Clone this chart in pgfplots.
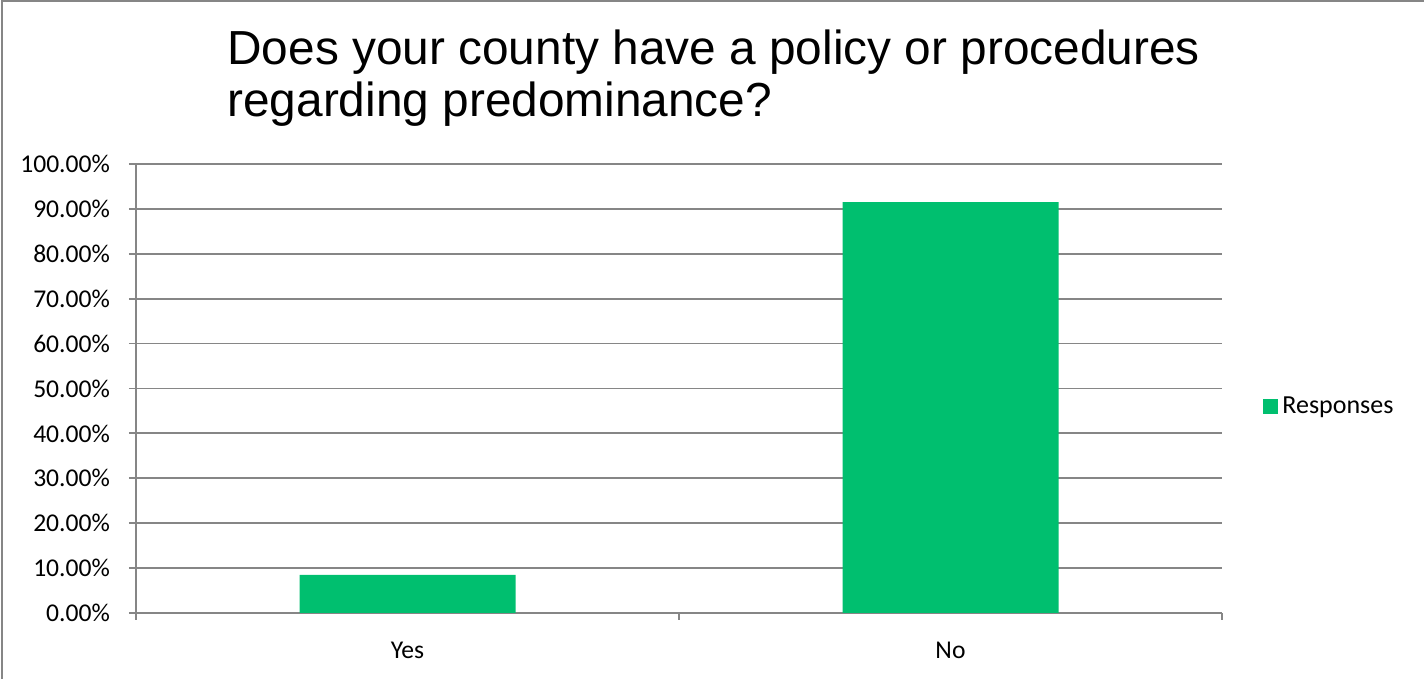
\documentclass[border=0pt]{standalone}
\usepackage{fontspec}
\setmainfont{Carlito}
\newfontfamily\titlefont{Liberation Sans}
\usepackage{pgfplots}
\pgfplotsset{compat=1.18}
\definecolor{smgreen}{HTML}{00BF6F}
\definecolor{gridgray}{HTML}{868686}
\begin{document}
\begin{tikzpicture}
\useasboundingbox (0,0) rectangle (712pt,339.5pt);
\draw[gridgray,line width=0.9pt] (1pt,0) -- (1pt,339pt) -- (712pt,339pt);
\node[anchor=base west,inner sep=0pt,font=\titlefont\fontsize{23.9pt}{26pt}\selectfont] at (113.5pt,307pt) {Does your county have a policy or procedures};
\node[anchor=base west,inner sep=0pt,font=\titlefont\fontsize{23.9pt}{26pt}\selectfont] at (113.5pt,281pt) {regarding predominance?};
\begin{axis}[
  at={(68pt,33pt)}, anchor=south west,
  scale only axis, width=543pt, height=224.5pt,
  xmin=-0.5, xmax=1.5, ymin=0, ymax=100,
  axis x line*=bottom, axis y line*=left,
  axis line style={gridgray,line width=0.9pt,-},
  xtick={0,1}, xticklabels={Yes,No},
  minor xtick={-0.5,0.5,1.5},
  major x tick style={draw=none},
  minor x tick style={gridgray,line width=0.9pt},
  ytick={0,10,...,100},
  yticklabels={0.00\%,10.00\%,20.00\%,30.00\%,40.00\%,50.00\%,60.00\%,70.00\%,80.00\%,90.00\%,100.00\%},
  y tick style={gridgray,line width=0.9pt},
  tick align=outside,
  major tick length=3.5pt, minor tick length=3.5pt,
  ymajorgrids, grid style={gridgray,line width=0.9pt},
  tick label style={font=\fontsize{12.8pt}{15pt}\selectfont, text=black},
  xticklabel style={anchor=base, yshift=-19.5pt},
  yticklabel style={anchor=east, xshift=-6pt},
  ybar, bar width=108pt,
  legend style={draw=none, at={(1,0.5)}, anchor=west, xshift=20.5pt, yshift=-9.25pt,
    font=\fontsize{13pt}{15pt}\selectfont, inner sep=0pt,
    /tikz/every even column/.append style={column sep=2pt}},
  legend image code/.code={\fill[smgreen] (0pt,-3.75pt) rectangle (7.5pt,3.75pt);},
]
\addplot[fill=smgreen, draw=none] coordinates {(0,8.51) (1,91.49)};
\addlegendentry{Responses}
\end{axis}
\end{tikzpicture}
\end{document}
